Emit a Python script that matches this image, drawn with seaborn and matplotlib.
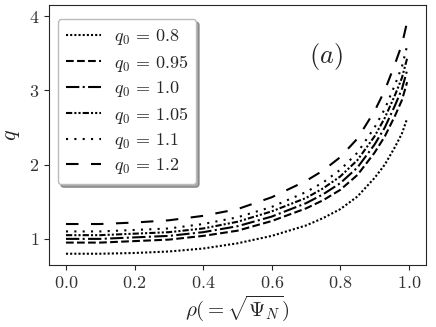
import pandas as pd
import matplotlib
matplotlib.use("Agg")
import matplotlib.pyplot as plt
import seaborn as sns

# Data
rho = [0.0, 0.1, 0.2, 0.3, 0.4, 0.5, 0.6, 0.7, 0.75, 0.8, 0.85, 0.9, 0.93, 0.96, 0.98, 0.995]

q_08 = [0.80, 0.80, 0.81, 0.83, 0.87, 0.94, 1.04, 1.18, 1.28, 1.40, 1.57, 1.82, 2.00, 2.24, 2.42, 2.62]
q_095 = [0.95, 0.95, 0.97, 0.99, 1.04, 1.11, 1.24, 1.41, 1.52, 1.66, 1.86, 2.16, 2.38, 2.66, 2.87, 3.11]
q_10 = [1.00, 1.00, 1.02, 1.04, 1.09, 1.17, 1.30, 1.48, 1.60, 1.75, 1.96, 2.27, 2.50, 2.80, 3.02, 3.27]
q_105 = [1.05, 1.05, 1.07, 1.09, 1.14, 1.23, 1.37, 1.55, 1.68, 1.84, 2.06, 2.38, 2.63, 2.94, 3.17, 3.43]
q_11 = [1.10, 1.10, 1.12, 1.14, 1.20, 1.29, 1.43, 1.63, 1.76, 1.93, 2.16, 2.50, 2.75, 3.08, 3.32, 3.60]
q_12 = [1.20, 1.20, 1.22, 1.25, 1.31, 1.40, 1.56, 1.78, 1.92, 2.10, 2.35, 2.72, 3.00, 3.36, 3.62, 3.92]

labels = ["0.8", "0.95", "1.0", "1.05", "1.1", "1.2"]
series = [q_08, q_095, q_10, q_105, q_11, q_12]
styles = [
    (0, (1, 1)),
    "--",
    "-.",
    (0, (3, 1, 1, 1, 1, 1)),
    (0, (1, 3)),
    (0, (6, 6)),
]

sns.set_style("ticks")
plt.rcParams["font.family"] = "serif"
plt.rcParams["font.serif"] = ["cmr10", "DejaVu Serif"]
plt.rcParams["mathtext.fontset"] = "cm"
plt.rcParams["axes.formatter.use_mathtext"] = True

fig, ax = plt.subplots(figsize=(4.36, 3.27), dpi=100)
fig.subplots_adjust(left=0.112, right=0.977, bottom=0.19, top=0.985)

for vals, lab, ls in zip(series, labels, styles):
    df = pd.DataFrame({"rho": rho, "q": vals})
    sns.lineplot(data=df, x="rho", y="q", ax=ax, color="black",
                 linestyle=ls, linewidth=1.5,
                 label=r"$q_0 \,=\, " + lab + "$")

ax.set_xlim(-0.05, 1.05)
ax.set_ylim(0.65, 4.15)
ax.set_xticks([0.0, 0.2, 0.4, 0.6, 0.8, 1.0])
ax.set_yticks([1, 2, 3, 4])
ax.tick_params(labelsize=13, labelcolor="#333333")
ax.set_xlabel(r"$\rho(=\sqrt{\Psi_N})$", fontsize=15, labelpad=2)
ax.set_ylabel(r"$q$", fontsize=16, labelpad=5)

ax.text(0.69, 0.80, r"$(a)$", transform=ax.transAxes, fontsize=19,
        va="center")

ax.legend(loc="upper left", bbox_to_anchor=(0.0, 0.98), fontsize=13,
          shadow=True, fancybox=True, handlelength=1.95, labelspacing=0.3,
          handletextpad=0.7, borderpad=0.45, framealpha=1,
          edgecolor="#bbbbbb")

fig.savefig("out.png", dpi=100)
